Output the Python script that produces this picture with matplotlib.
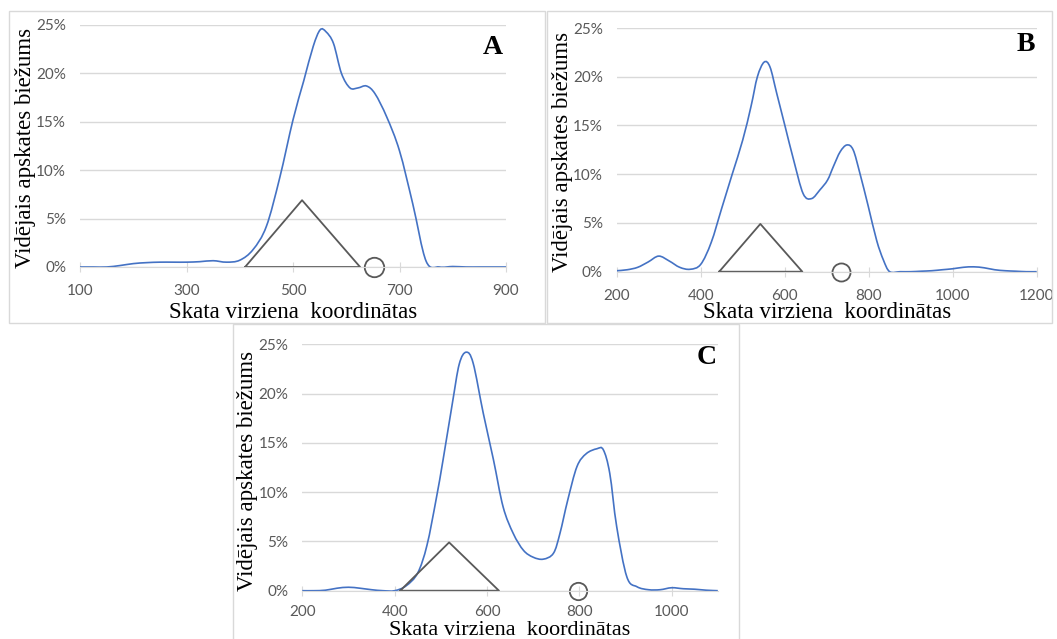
import numpy as np
import matplotlib
matplotlib.use("Agg")
import matplotlib.pyplot as plt
from matplotlib.path import Path
from matplotlib.patches import PathPatch, Rectangle

# panel A
a_x = [100, 125, 150, 175, 200, 225, 250, 275, 300, 325, 350, 375, 400, 425, 450, 475,
       500, 520, 538, 551, 562, 576, 591, 607, 622, 638, 654, 676, 700, 725, 750, 775,
       800, 825, 850, 875, 900]
a_y = [0, 0, 0, 0.15, 0.35, 0.45, 0.5, 0.5, 0.5, 0.55, 0.65, 0.5, 0.7, 1.8, 4.2, 9.2,
       15.2, 19.2, 22.8, 24.5, 24.3, 23.1, 20.0, 18.5, 18.5, 18.7, 17.9, 15.5, 12.0, 6.5,
       0.6, 0.0, 0.05, 0, 0, 0, 0]
a_tri_x = [410, 517, 626, 410]
a_tri_y = [0, 6.9, 0, 0]
a_circle = 653

# panel B
b_x = [200, 225, 250, 275, 300, 325, 350, 375, 400, 425, 450, 475, 500, 520, 535, 551,
       565, 581, 601, 621, 644, 664, 684, 702, 716, 732, 748, 763, 779, 799, 819, 835,
       850, 875, 900, 925, 950, 975, 1000, 1025, 1050, 1075, 1100, 1125, 1150, 1175, 1200]
b_y = [0.1, 0.2, 0.45, 1.0, 1.6, 1.1, 0.45, 0.25, 0.75, 3.0, 6.5, 10.0, 13.5, 17.0, 20.0,
       21.5, 21.0, 18.3, 14.9, 11.5, 8.0, 7.5, 8.4, 9.4, 10.8, 12.3, 13.0, 12.5, 10.1, 6.7,
       3.2, 1.2, 0.0, 0, 0, 0.05, 0.1, 0.2, 0.3, 0.45, 0.5, 0.4, 0.2, 0.1, 0.05, 0, 0]
b_tri_x = [444, 542, 642, 444]
b_tri_y = [0, 4.9, 0, 0]
b_circle = 735

# panel C
c_x = [200, 225, 250, 275, 300, 325, 350, 375, 400, 425, 450, 470, 490, 505, 525, 540,
       555, 570, 592, 614, 635, 657, 679, 700, 722, 744, 758, 775, 795, 815, 838, 852,
       866, 881, 903, 925, 950, 975, 1000, 1025, 1050, 1075, 1100]
c_y = [0, 0, 0.05, 0.25, 0.35, 0.25, 0.1, 0, 0, 0.5, 1.8, 4.6, 9.3, 13.3, 19.0, 23.0,
       24.2, 23.1, 18.0, 13.3, 8.5, 5.8, 4.1, 3.4, 3.2, 3.8, 5.8, 9.2, 12.6, 13.9, 14.4,
       14.3, 11.9, 6.5, 1.4, 0.4, 0.1, 0.1, 0.3, 0.2, 0.15, 0.05, 0]
c_tri_x = [412, 518, 626, 412]
c_tri_y = [0, 4.9, 0, 0]
c_circle = 798

y_ticks = [0, 5, 10, 15, 20, 25]
x_label = "Skata virziena  koordinātas"
y_label = "Vidējais apskates biežums"

W, H = 1057, 639


def smooth_line(ax, x, y, **kw):
    # excel-like smoothed line: cubic bezier through the points
    pts = np.column_stack([x, y]).astype(float)
    ext = np.vstack([pts[0], pts, pts[-1]])
    verts = [pts[0]]
    codes = [Path.MOVETO]
    for i in range(len(pts) - 1):
        p0, p1, p2, p3 = ext[i], ext[i + 1], ext[i + 2], ext[i + 3]
        verts += [p1 + (p2 - p0) / 6, p2 - (p3 - p1) / 6, p2]
        codes += [Path.CURVE4] * 3
    ax.add_patch(PathPatch(Path(verts, codes), fill=False, **kw))


def px_box(l, t, r, b):
    return [l / W, 1 - b / H, (r - l) / W, (b - t) / H]


fig = plt.figure(figsize=(W / 100, H / 100), dpi=100)

# panel frames
for l, t, r, b in [(9, 11, 545, 323), (547, 11, 1052, 323), (233, 324, 739, 650)]:
    fig.add_artist(Rectangle((l / W, 1 - b / H), (r - l) / W, (b - t) / H,
                             transform=fig.transFigure, fill=False,
                             ec="#d9d9d9", lw=1))

panels = [
    dict(letter="A", x=a_x, y=a_y, tx=a_tri_x, ty=a_tri_y, circ=a_circle, ms=14,
         box=px_box(80, 25, 506, 267), xlim=(100, 900), xticks=[100, 300, 500, 700, 900],
         ylab=(-0.129, 0.49), xlab=-0.211, xfs=16.5, pad=9, let=(0.993, 0.96)),
    dict(letter="B", x=b_x, y=b_y, tx=b_tri_x, ty=b_tri_y, circ=b_circle, ms=13,
         box=px_box(616.7, 28, 1036.7, 271.7), xlim=(200, 1200),
         xticks=[200, 400, 600, 800, 1000, 1200],
         ylab=(-0.128, 0.49), xlab=-0.19, xfs=16.5, pad=9, let=(0.996, 0.984)),
    dict(letter="C", x=c_x, y=c_y, tx=c_tri_x, ty=c_tri_y, circ=c_circle, ms=12.5,
         box=px_box(302.3, 344.3, 717.8, 590.7), xlim=(200, 1100),
         xticks=[200, 400, 600, 800, 1000],
         ylab=(-0.131, 0.488), xlab=-0.18, xfs=16, pad=7, let=(0.998, 0.997)),
]

for p in panels:
    ax = fig.add_axes(p["box"])
    ax.set_xlim(*p["xlim"])
    ax.set_ylim(0, 25)
    ax.set_yticks(y_ticks)
    ax.set_yticklabels([f"{v}%" for v in y_ticks])
    ax.set_xticks(p["xticks"])
    ax.set_xticklabels([str(v) for v in p["xticks"]])
    ax.grid(axis="y", color="#d9d9d9", lw=1)
    ax.set_axisbelow(True)
    for s in ["left", "right", "top"]:
        ax.spines[s].set_visible(False)
    ax.spines["bottom"].set_color("#d9d9d9")
    ax.tick_params(axis="x", direction="inout", length=7, color="#d9d9d9",
                   labelsize=11, labelcolor="#595959", pad=p["pad"])
    ax.tick_params(axis="y", length=0, labelsize=11, labelcolor="#595959", pad=10)
    for lb in ax.get_xticklabels() + ax.get_yticklabels():
        lb.set_fontfamily("Lato")

    smooth_line(ax, p["x"], p["y"], ec="#4472c4", lw=1.2)
    ax.plot(p["tx"], p["ty"], color="#595959", lw=1.3, clip_on=False)
    ax.plot([p["circ"]], [0], marker="o", ms=p["ms"], mfc="none", mec="#595959",
            mew=1.3, clip_on=False)

    ax.text(p["ylab"][0], p["ylab"][1], y_label, rotation=90, ha="center", va="center",
            transform=ax.transAxes, fontsize=16.5, family="Liberation Serif")
    ax.text(0.5, p["xlab"], x_label, ha="center", va="baseline",
            transform=ax.transAxes, fontsize=p["xfs"], family="Liberation Serif")
    ax.text(p["let"][0], p["let"][1], p["letter"], ha="right", va="top",
            transform=ax.transAxes, fontsize=20, fontweight="bold",
            family="Liberation Serif")

fig.savefig("out.png", dpi=100)
